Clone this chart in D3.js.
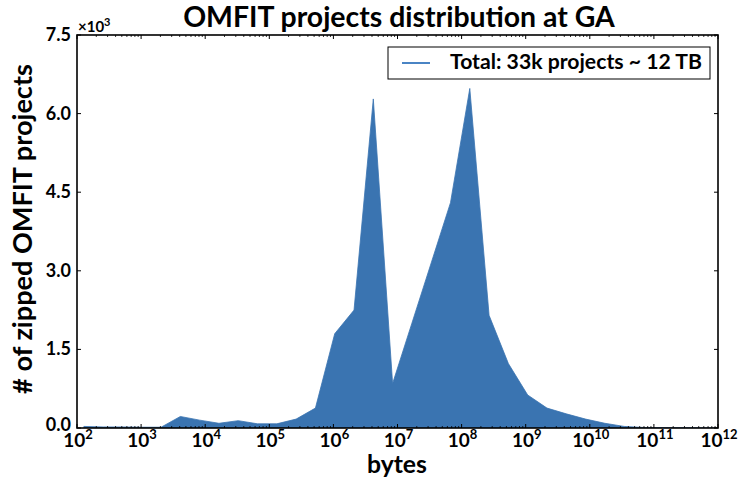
<!DOCTYPE html>
<html><head><meta charset="utf-8">
<script src="https://cdn.jsdelivr.net/npm/d3@7"></script>
<style>body{margin:0;background:#fff}svg{display:block}text{font-family:Lato,"Open Sans",sans-serif;font-weight:bold;fill:#000}</style>
</head><body><svg id="c" width="740" height="479"></svg>
<script>
const sizes = [128,256,512,1024,2048,4096,8192,16384,32768,65536,131072,262144,524288,1048576,2097152,4194304,8388608,16777216,33554432,67108864,134217728,268435456,536870912,1073741824,2147483648,4294967296,8589934592,17179869184,34359738368,68719476736,137438953472,274877906944,549755813888,1099511627776];
const counts = [30,20,20,15,15,220,150,90,140,80,80,170,380,1800,2250,6280,850,2000,3150,4300,6480,2150,1230,630,380,270,170,90,30,10,5,3,2,1];
const xTickExps = [2,3,4,5,6,7,8,9,10,11,12];
const yTicks = [0,1500,3000,4500,6000,7500];
const title = "OMFIT projects distribution at GA";
const xLabel = "bytes";
const yLabel = "# of zipped OMFIT projects";
const legendLabel = "Total: 33k projects ~ 12 TB";

const L=77,R=718,T=35,B=428;
const svg=d3.select("#c");
const x=d3.scaleLog().domain([1e2,1e12]).range([L,R]);
const y=d3.scaleLinear().domain([0,7500]).range([B,T]);
const fillC="#3a74b1";

svg.append("defs").append("clipPath").attr("id","clp").append("rect").attr("x",L).attr("y",T).attr("width",R-L).attr("height",B-T);
const data=sizes.map((s,i)=>({s,c:counts[i]}));
svg.append("path").datum(data).attr("clip-path","url(#clp)")
  .attr("d",d3.area().x(d=>x(d.s)).y0(y(0)).y1(d=>y(d.c)))
  .attr("fill",fillC).attr("stroke",fillC).attr("stroke-width",0.8);

// ticks
const g=svg.append("g").attr("stroke","#000");
const minors=[];
for(let e=2;e<12;e++)for(let m=2;m<10;m++)minors.push(m*Math.pow(10,e));
minors.forEach(v=>{const px=x(v);
  g.append("line").attr("x1",px).attr("x2",px).attr("y1",B).attr("y2",B-2).attr("stroke-width",0.8);
  g.append("line").attr("x1",px).attr("x2",px).attr("y1",T).attr("y2",T+2).attr("stroke-width",0.8);});
xTickExps.forEach(e=>{const px=x(Math.pow(10,e));
  g.append("line").attr("x1",px).attr("x2",px).attr("y1",B).attr("y2",B-4).attr("stroke-width",1);
  g.append("line").attr("x1",px).attr("x2",px).attr("y1",T).attr("y2",T+4).attr("stroke-width",1);
  const t=svg.append("text").attr("x",px+1).attr("y",447).attr("text-anchor","middle").attr("font-size",19);
  t.append("tspan").text("10");
  t.append("tspan").attr("dy",-8).attr("font-size",13).text(e);
});
yTicks.forEach(v=>{const py=y(v);
  g.append("line").attr("x1",L).attr("x2",L+4).attr("y1",py).attr("y2",py).attr("stroke-width",1);
  g.append("line").attr("x1",R).attr("x2",R-4).attr("y1",py).attr("y2",py).attr("stroke-width",1);
  svg.append("text").attr("x",71).attr("y",py+(v===0?3:6)).attr("text-anchor","end").attr("font-size",18).text((v/1000).toFixed(1));
});
svg.append("rect").attr("x",L).attr("y",T).attr("width",R-L).attr("height",B-T).attr("fill","none").attr("stroke","#000").attr("stroke-width",1.6);

// offset text
const ot=svg.append("text").attr("x",78).attr("y",32).attr("font-size",15);
ot.append("tspan").text("×10");
ot.append("tspan").attr("dy",-6).attr("font-size",11).text("3");

// title
const tt=svg.append("text").attr("x",399).attr("y",27).attr("text-anchor","middle").attr("font-size",21).text(title);
const tw=tt.node().getComputedTextLength(); if(tw>0) tt.attr("font-size",21*432/tw);
const xl=svg.append("text").attr("x",397).attr("y",473).attr("text-anchor","middle").attr("font-size",19).text(xLabel);
const xw=xl.node().getComputedTextLength(); if(xw>0) xl.attr("font-size",19*60/xw);
const yl=svg.append("text").attr("transform","translate(32,229) rotate(-90)").attr("text-anchor","middle").attr("font-size",19).text(yLabel);
const yw=yl.node().getComputedTextLength(); if(yw>0) yl.attr("font-size",19*330/yw);

// legend
svg.append("rect").attr("x",388).attr("y",47).attr("width",322).attr("height",32).attr("fill","#fff").attr("stroke","#000").attr("stroke-width",1);
svg.append("line").attr("x1",402).attr("x2",430).attr("y1",63).attr("y2",63).attr("stroke","#4a84c4").attr("stroke-width",2);
const lt=svg.append("text").attr("x",450).attr("y",69).attr("font-size",16).text(legendLabel);
const lw=lt.node().getComputedTextLength(); if(lw>0) lt.attr("font-size",16*252/lw);
</script></body></html>
